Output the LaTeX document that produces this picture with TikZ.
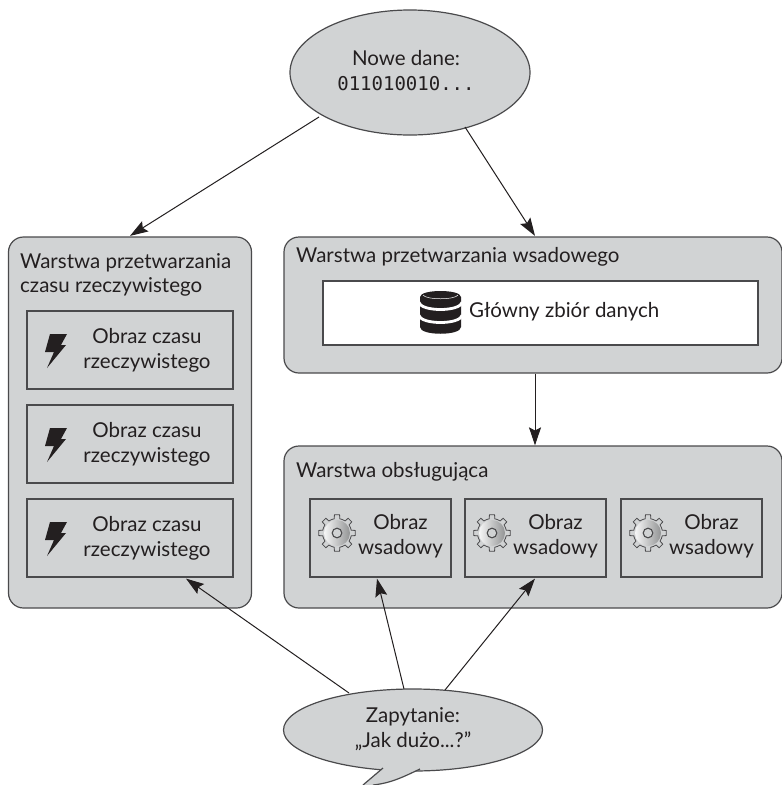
\documentclass[tikz,border=0pt]{standalone}
\usepackage{fontspec}
\setmainfont{Lato}
\setmonofont{DejaVu Sans Mono}
\usetikzlibrary{shapes.geometric,arrows.meta,calc}
\definecolor{panel}{HTML}{D1D3D4}
\definecolor{ink}{HTML}{231F20}
\definecolor{edge}{HTML}{4A4A4C}
\tikzset{
 x=1pt,y=-1pt,
 txt/.style={font=\fontsize{20.5}{25}\selectfont,text=ink,align=center,inner sep=0pt},
 bubble/.style={ellipse,draw=edge,fill=panel,line width=1.2pt,inner sep=0pt},
 panelbox/.style={rectangle,draw=edge,fill=panel,line width=1.2pt,rounded corners=15pt,inner sep=0pt},
 innerbox/.style={rectangle,draw=edge,fill=panel,line width=1.2pt,inner sep=0pt},
 link/.style={draw=ink,line width=1pt,-{Stealth[length=18pt,width=12pt,inset=3pt]}},
}
\newcommand{\bolt}[2]{\fill[ink] ($(#1)+(#2)$) ++(-5,-16) -- ++(17,0) -- ++(-6,11) -- ++(5,0) -- (47,\y+18) -- (54,\y+2) -- (45,\y+2) -- cycle;}
\newcommand{\gearicon}[1]{%
 \begin{scope}[shift={(#1)}]
  \fill[panel,draw=edge,line width=.8pt]
   (-11:14.5) \foreach \a in {0,45,...,315}{ -- (\a-11:14.5) -- (\a-8:18.5) -- (\a+8:18.5) -- (\a+11:14.5) -- (\a+22.5:14.5)} -- cycle;
  \shade[left color=white!80!panel,right color=black!30!panel] (0,0) circle (13);
  \fill[panel] (0,0) circle (5);
  \draw[edge,line width=1.1pt] (0,0) circle (4.8);
 \end{scope}}
\begin{document}
\begin{tikzpicture}
\useasboundingbox (0,0) rectangle (782,785);
\path[fill=white] (0,0) rectangle (782,785);
% ellipses
\node[bubble,minimum width=240pt,minimum height=125pt] (top) at (410,72.5) {};
\node[txt] (toptext) at (406,71) {Nowe dane:\\{\ttfamily\fontsize{19}{25}\selectfont 011010010...}};
% panels
\node[panelbox,minimum width=243pt,minimum height=371pt] (left) at (130,422.5) {};
\node[panelbox,minimum width=498pt,minimum height=136pt] (batch) at (533,305) {};
\node[panelbox,minimum width=498pt,minimum height=162pt] (serve) at (533,527) {};
\node[txt,align=left,anchor=west,font=\fontsize{20.5}{24}\selectfont] (lefttitle) at (20,275) {Warstwa przetwarzania\\czasu rzeczywistego};
\node[txt,anchor=west] (batchtitle) at (296,257) {Warstwa przetwarzania wsadowego};
\node[txt,anchor=west] (servetitle) at (296,472) {Warstwa obsługująca};
% master
\node[rectangle,draw=edge,fill=white,line width=1.2pt,minimum width=435pt,minimum height=64pt] (master) at (540.5,313) {};
\node[txt,anchor=west] (mastertext) at (469,312) {Główny zbiór danych};
\fill[ink] (420,297) .. controls (420,289) and (461,289) .. (461,297) -- (461,327) .. controls (461,336) and (420,336) .. (420,327) -- cycle;
\draw[white,line width=.5pt] (423,295) .. controls (426,300) and (455,300) .. (458,295);
\draw[white,line width=2.8pt] (419,302) .. controls (420,312) and (461,312) .. (462,302);
\draw[white,line width=2.8pt] (419,315) .. controls (420,325) and (461,325) .. (462,315);
% realtime boxes
\foreach \n/\y in {a/350,b/444,c/538}{
 \node[innerbox,minimum width=206pt,minimum height=78pt] (rt\n) at (130,\y) {};
 \node[txt] (rt\n text) at (147,\y+.5) {Obraz czasu\\rzeczywistego};
 \bolt{55,\y}{0,0}
}
% batch views
\foreach \n/\x in {a/380.5,b/535.5,c/691.5}{
 \node[innerbox,minimum width=141pt,minimum height=78pt] (bv\n) at (\x,538) {};
 \node[txt] (bv\n text) at (\x+20,536.5) {Obraz\\wsadowy};
 \gearicon{\x-43.5,533}
}
% query
\node[bubble,minimum width=259pt,minimum height=82pt] (query) at (413,730) {};
\fill[panel] (382,766) -- (422,766) -- (420,769) .. controls (405,776) and (392,783) .. (373,785) -- (363,785) -- (383,768) -- cycle;
\draw[edge,line width=1.2pt] (383,768) -- (363,785);
\draw[edge,line width=1.2pt] (420,769) .. controls (405,776) and (392,783) .. (373,785);
\node[txt] (querytext) at (413,729.5) {Zapytanie:\\„Jak dużo...?”};
% connectors
\draw[link] (319,117) -- ($(left.north)+(0,-.5)$);
\draw[link] (465,127) -- ($(batch.north)+(2,-.5)$);
\draw[link] ($(batch.south)+(2,0)$) -- ($(serve.north)+(2,0)$);
\draw[link] (349,693) -- ($(rtc.south)+(56,1)$);
\draw[link] (404,689) -- ($(bva.south)+(-3.5,1)$);
\draw[link] (445,690) -- ($(bvb.south)+(-.5,1)$);
\end{tikzpicture}
\end{document}
